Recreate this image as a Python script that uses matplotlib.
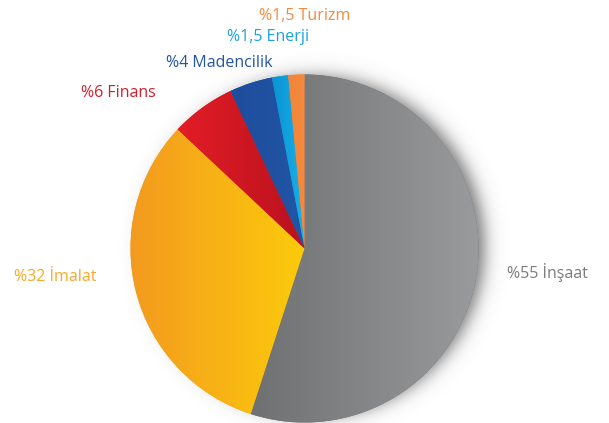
import numpy as np
import matplotlib
matplotlib.use("Agg")
import matplotlib.pyplot as plt
from matplotlib.colors import LinearSegmentedColormap, to_rgb

# Data
sectors = ["İnşaat", "İmalat", "Finans", "Madencilik", "Enerji", "Turizm"]
shares = [55, 32, 6, 4, 1.5, 1.5]
labels = ["%55 İnşaat", "%32 İmalat", "%6 Finans", "%4 Madencilik", "%1,5 Enerji", "%1,5 Turizm"]

# Styles
grad_left = ["#6f7072", "#f39a1f", "#e31d26", "#1f4c9c", "#0a92d2", "#f2843a"]
grad_right = ["#9a9b9c", "#fccb0b", "#b9121e", "#2156a6", "#19b2ea", "#f48b3d"]
label_colors = ["#7b7b7b", "#f7a92a", "#d1202d", "#2454a2", "#1ca1dc", "#f28a40"]
label_pos = [(507, 151), (14, 146), (81, 330), (166, 360), (227, 386), (259, 407)]

W, H = 609, 423
fig = plt.figure(figsize=(W / 100, H / 100), dpi=100)
ax = fig.add_axes([0, 0, 1, 1])

cx, cy, R = 304.5, 174.5, 174.0

# soft shadow behind the pie
xx, yy = np.meshgrid(np.arange(W) + 0.5, np.arange(H) + 0.5)
d = np.hypot(xx - (cx + 10), yy - (cy + 2))
alpha = 0.75 * 0.5 * (1 - np.tanh((d - (R - 4)) / 10.0))
shadow = np.zeros((H, W, 4))
shadow[..., :3] = 0.30
shadow[..., 3] = alpha
ax.imshow(shadow, extent=(0, W, 0, H), origin="lower", zorder=0, interpolation="bilinear")

wedges, _ = ax.pie(shares, startangle=90, counterclock=False, center=(cx, cy),
                   radius=R, colors=grad_left, frame=True,
                   wedgeprops=dict(linewidth=0))

grad = np.linspace(0, 1, 256).reshape(1, -1)
for w, cl, cr in zip(wedges, grad_left, grad_right):
    w.set_zorder(1)
    ext = w.get_path().get_extents()
    cmap = LinearSegmentedColormap.from_list("g", [to_rgb(cl), to_rgb(cr)])
    im = ax.imshow(grad, cmap=cmap, extent=(ext.x0 - 1, ext.x1 + 1, ext.y0 - 1, ext.y1 + 1),
                   aspect="auto", zorder=2, interpolation="bilinear")
    im.set_clip_path(w)

for lab, col, (x, y) in zip(labels, label_colors, label_pos):
    ax.text(x, y, lab, color=col, fontsize=11.5, family="Open Sans",
            ha="left", va="center", zorder=5)

ax.set_xlim(0, W)
ax.set_ylim(0, H)
ax.set_aspect("equal")
ax.axis("off")
fig.savefig("out.png", dpi=100)
